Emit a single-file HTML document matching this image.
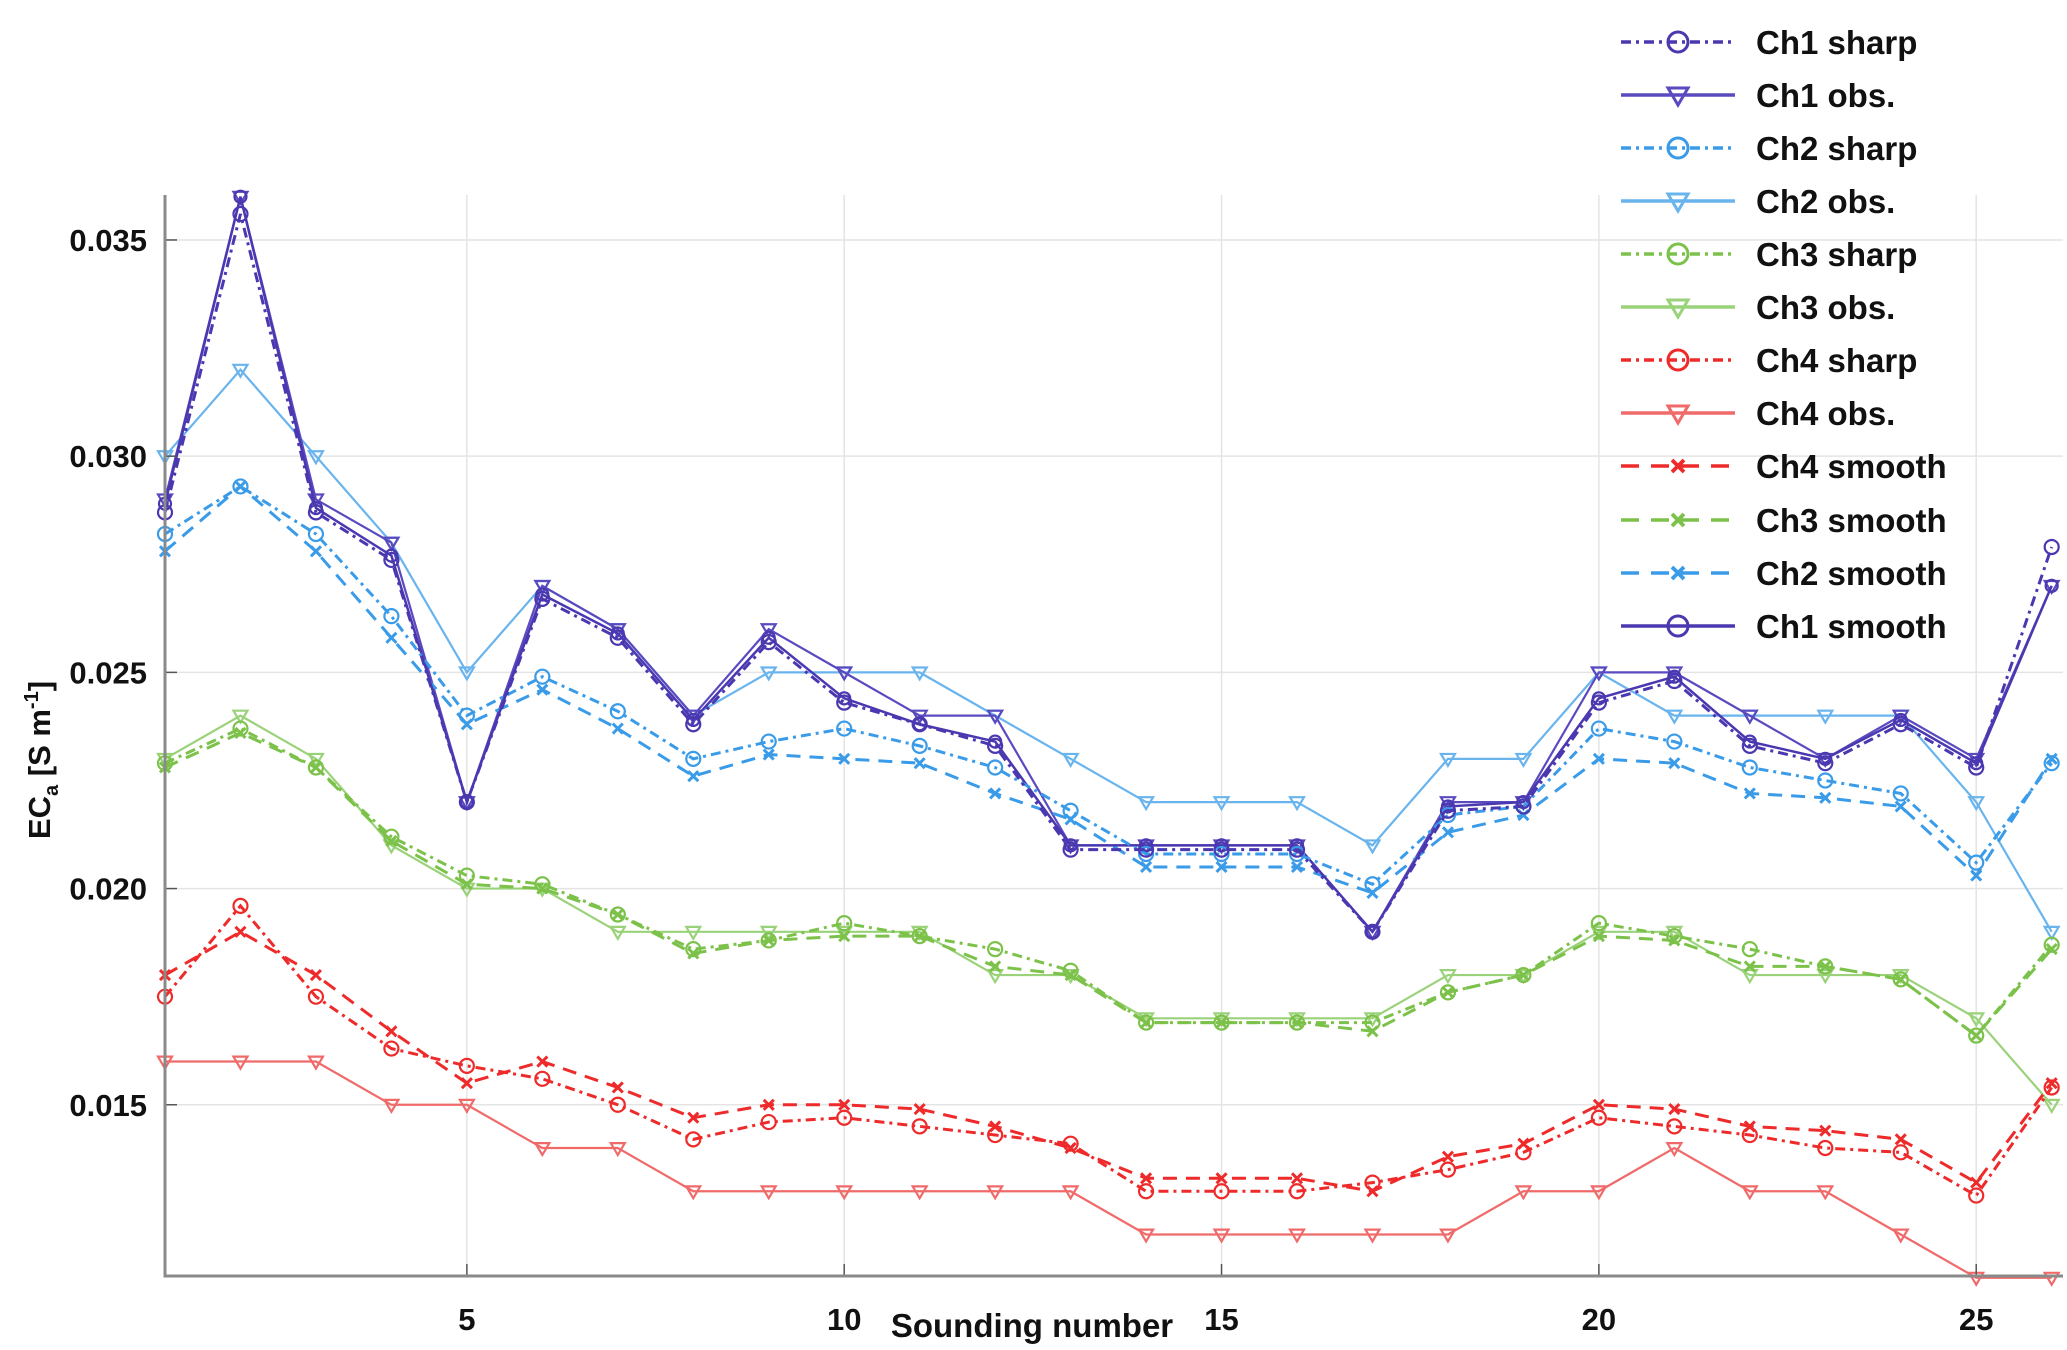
<!DOCTYPE html>
<html><head><meta charset="utf-8"><style>
html,body{margin:0;padding:0;background:#fff;}
svg{display:block;font-family:"Liberation Sans",sans-serif;}
</style></head><body>
<svg id="chart" width="2067" height="1350" viewBox="0 0 2067 1350" xmlns="http://www.w3.org/2000/svg">
<rect x="0" y="0" width="2067" height="1350" fill="#fff"/>
<g id="grid"></g><g id="series"></g><g id="axes"></g><g id="legend"></g>
</svg>
<script>
const xTicks=[5,10,15,20,25];
const yTicks=[0.015,0.020,0.025,0.030,0.035];
const yTickLabels=["0.015","0.020","0.025","0.030","0.035"];
const ch1Obs=[0.029,0.036,0.029,0.028,0.022,0.027,0.026,0.024,0.026,0.025,0.024,0.024,0.021,0.021,0.021,0.021,0.019,0.022,0.022,0.025,0.025,0.024,0.023,0.024,0.023,0.027];
const ch1Sharp=[0.0287,0.0356,0.0287,0.0276,0.022,0.0267,0.0258,0.0238,0.0257,0.0243,0.0238,0.0233,0.0209,0.0209,0.0209,0.0209,0.019,0.0218,0.0219,0.0243,0.0248,0.0233,0.0229,0.0238,0.0228,0.0279];
const ch1Smooth=[0.0289,0.0360,0.0288,0.0277,0.0220,0.0268,0.0259,0.0239,0.0258,0.0244,0.0238,0.0234,0.0210,0.0210,0.0210,0.0210,0.0190,0.0219,0.0220,0.0244,0.0249,0.0234,0.0230,0.0239,0.0229,0.0270];
const ch2Obs=[0.030,0.032,0.030,0.028,0.025,0.027,0.026,0.024,0.025,0.025,0.025,0.024,0.023,0.022,0.022,0.022,0.021,0.023,0.023,0.025,0.024,0.024,0.024,0.024,0.022,0.019];
const ch2Sharp=[0.0282,0.0293,0.0282,0.0263,0.0240,0.0249,0.0241,0.0230,0.0234,0.0237,0.0233,0.0228,0.0218,0.0208,0.0208,0.0208,0.0201,0.0217,0.0219,0.0237,0.0234,0.0228,0.0225,0.0222,0.0206,0.0229];
const ch2Smooth=[0.0278,0.0293,0.0278,0.0258,0.0238,0.0246,0.0237,0.0226,0.0231,0.0230,0.0229,0.0222,0.0216,0.0205,0.0205,0.0205,0.0199,0.0213,0.0217,0.0230,0.0229,0.0222,0.0221,0.0219,0.0203,0.0230];
const ch3Obs=[0.023,0.024,0.023,0.021,0.020,0.020,0.019,0.019,0.019,0.019,0.019,0.018,0.018,0.017,0.017,0.017,0.017,0.018,0.018,0.019,0.019,0.018,0.018,0.018,0.017,0.015];
const ch3Sharp=[0.0229,0.0237,0.0228,0.0212,0.0203,0.0201,0.0194,0.0186,0.0188,0.0192,0.0189,0.0186,0.0181,0.0169,0.0169,0.0169,0.0169,0.0176,0.0180,0.0192,0.0189,0.0186,0.0182,0.0179,0.0166,0.0187];
const ch3Smooth=[0.0228,0.0236,0.0228,0.0211,0.0201,0.0200,0.0194,0.0185,0.0188,0.0189,0.0189,0.0182,0.0180,0.0169,0.0169,0.0169,0.0167,0.0176,0.0180,0.0189,0.0188,0.0182,0.0182,0.0179,0.0166,0.0186];
const ch4Obs=[0.016,0.016,0.016,0.015,0.015,0.014,0.014,0.013,0.013,0.013,0.013,0.013,0.013,0.012,0.012,0.012,0.012,0.012,0.013,0.013,0.014,0.013,0.013,0.012,0.011,0.011];
const ch4Sharp=[0.0175,0.0196,0.0175,0.0163,0.0159,0.0156,0.0150,0.0142,0.0146,0.0147,0.0145,0.0143,0.0141,0.0130,0.0130,0.0130,0.0132,0.0135,0.0139,0.0147,0.0145,0.0143,0.0140,0.0139,0.0129,0.0154];
const ch4Smooth=[0.0180,0.0190,0.0180,0.0167,0.0155,0.0160,0.0154,0.0147,0.0150,0.0150,0.0149,0.0145,0.0140,0.0133,0.0133,0.0133,0.0130,0.0138,0.0141,0.0150,0.0149,0.0145,0.0144,0.0142,0.0132,0.0155];

const NS="http://www.w3.org/2000/svg";
const L=165,R=2063,T=195,B=1276,XMIN=1,XMAX=26.15,YMIN=0.01104,YMAX=0.03604;
function sx(v){return L+(v-XMIN)/(XMAX-XMIN)*(R-L);}
function sy(v){return B-(v-YMIN)/(YMAX-YMIN)*(B-T);}
function mk(tag,attrs,parent){const e=document.createElementNS(NS,tag);for(const k in attrs)e.setAttribute(k,attrs[k]);parent.appendChild(e);return e;}
const grid=document.getElementById('grid'),axes=document.getElementById('axes'),ser=document.getElementById('series'),leg=document.getElementById('legend');

xTicks.forEach(t=>{const l=mk('line',{x1:sx(t),x2:sx(t),y1:T,y2:B,stroke:'#e4e4e4','stroke-width':1.5},grid);

mk('line',{x1:sx(t),x2:sx(t),y1:B,y2:B-12,stroke:'#555','stroke-width':1.5},axes);
const tx=mk('text',{x:sx(t),y:1330,'text-anchor':'middle','font-size':31,'font-weight':'bold',fill:'#111'},axes);tx.textContent=t;
});
yTicks.forEach((t,i)=>{const l=mk('line',{x1:L,x2:R,y1:sy(t),y2:sy(t),stroke:'#e4e4e4','stroke-width':1.5},grid);

mk('line',{x1:L,x2:L+12,y1:sy(t),y2:sy(t),stroke:'#555','stroke-width':1.5},axes);
const tx=mk('text',{x:147,y:sy(t)+11,'text-anchor':'end','font-size':31,'font-weight':'bold',fill:'#111'},axes);tx.textContent=yTickLabels[i];
});
const ax=mk('path',{d:`M${L} ${T} V${B} H${R}`,fill:'none',stroke:'#8a8a8a','stroke-width':3},axes);

const xt=mk('text',{x:1032,y:1337,'text-anchor':'middle','font-size':33,'font-weight':'bold',fill:'#111'},axes);xt.textContent='Sounding number';

const yt=mk('text',{transform:'translate(50,760) rotate(-90)','text-anchor':'middle','font-size':31,'font-weight':'bold',fill:'#111'},axes);
yt.innerHTML='EC<tspan font-size="20" dy="8">a</tspan><tspan dy="-8">  [S m</tspan><tspan font-size="20" dy="-12">-1</tspan><tspan dy="12">]</tspan>';


const C1='#4a38b0',C2='#3a9be8',C3='#7cc24a',C4='#ee2a2a';
const C1o='#5a4ac0',C2o='#6ab4ee',C3o='#9ad27a',C4o='#f06a6a';
function marker(g,type,x,y,c,r,w){
 w=w||2.2;
 if(type==='o')mk('circle',{cx:x,cy:y,r:r,fill:'none',stroke:c,'stroke-width':w},g);
 else if(type==='v')mk('path',{d:`M${x-r} ${y-r*0.7} L${x+r} ${y-r*0.7} L${x} ${y+r} Z`,fill:'none',stroke:c,'stroke-width':w},g);
 else if(type==='x'){mk('path',{d:`M${x-r} ${y-r} L${x+r} ${y+r} M${x-r} ${y+r} L${x+r} ${y-r}`,stroke:c,'stroke-width':w+0.8},g);}
}
const seriesDefs=[
 {name:'ch4-obs',d:ch4Obs,c:C4o,dash:'',m:'v',w:2.2,r:7},
 {name:'ch3-obs',d:ch3Obs,c:C3o,dash:'',m:'v',w:2.2,r:7},
 {name:'ch2-obs',d:ch2Obs,c:C2o,dash:'',m:'v',w:2.2,r:7},
 {name:'ch1-obs',d:ch1Obs,c:C1o,dash:'',m:'v',w:2.2,r:7},
 {name:'ch4-smooth',d:ch4Smooth,c:C4,dash:'14 9',m:'x',w:3,r:5},
 {name:'ch3-smooth',d:ch3Smooth,c:C3,dash:'14 9',m:'x',w:3,r:5},
 {name:'ch2-smooth',d:ch2Smooth,c:C2,dash:'14 9',m:'x',w:3,r:5},
 {name:'ch1-smooth',d:ch1Smooth,c:C1,dash:'',m:'o',w:2.5,r:6},
 {name:'ch4-sharp',d:ch4Sharp,c:C4,dash:'10 5 3 5',m:'o',w:3,r:7},
 {name:'ch3-sharp',d:ch3Sharp,c:C3,dash:'10 5 3 5',m:'o',w:3,r:7},
 {name:'ch2-sharp',d:ch2Sharp,c:C2,dash:'10 5 3 5',m:'o',w:3,r:7},
 {name:'ch1-sharp',d:ch1Sharp,c:C1,dash:'10 5 3 5',m:'o',w:3,r:7}
];
seriesDefs.forEach(s=>{
 const g=mk('g',{},ser);
 
 
 const pts=s.d.map((v,i)=>sx(i+1)+','+sy(v)).join(' ');
 const a={points:pts,fill:'none',stroke:s.c,'stroke-width':s.w};if(s.dash)a['stroke-dasharray']=s.dash;
 mk('polyline',a,g);
 s.d.forEach((v,i)=>marker(g,s.m,sx(i+1),sy(v),s.c,s.r));
});

const legItems=[
 ['Ch1 sharp',C1,'10 5 3 5','o'],['Ch1 obs.',C1o,'','v'],
 ['Ch2 sharp',C2,'10 5 3 5','o'],['Ch2 obs.',C2o,'','v'],
 ['Ch3 sharp',C3,'10 5 3 5','o'],['Ch3 obs.',C3o,'','v'],
 ['Ch4 sharp',C4,'10 5 3 5','o'],['Ch4 obs.',C4o,'','v'],
 ['Ch4 smooth',C4,'18 12','x'],['Ch3 smooth',C3,'18 12','x'],
 ['Ch2 smooth',C2,'18 12','x'],['Ch1 smooth',C1,'','o']];
const legY=[42,95,148,201,254,307,360,413,466,520,573,626];
legItems.forEach((it,i)=>{
 const g=mk('g',{},leg);
 
 
 const y=legY[i];
 const a={x1:1621,x2:1735,y1:y,y2:y,stroke:it[1],'stroke-width':3.5};if(it[2])a['stroke-dasharray']=it[2];
 mk('line',a,g);
 marker(g,it[3],1678,y,it[1],it[3]==='x'?6:10,3);
 const t=mk('text',{x:1756,y:y+12,'font-size':33,'font-weight':'bold',fill:'#111'},g);t.textContent=it[0];
});
</script>
</body></html>
